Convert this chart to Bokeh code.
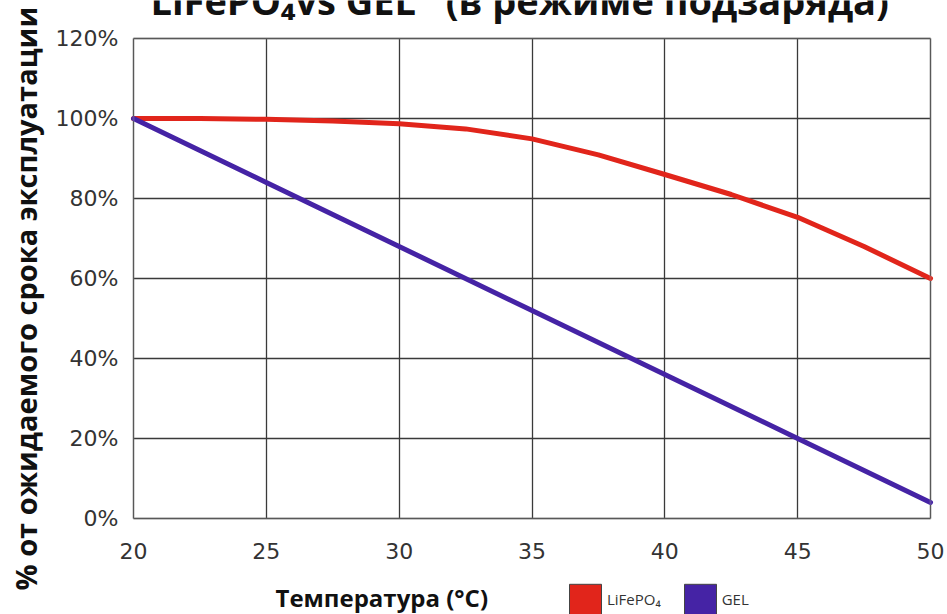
from bokeh.plotting import figure
from bokeh.models import Range1d, FixedTicker, Label, Grid, BoxAnnotation
from bokeh.embed import file_html
from bokeh.resources import INLINE

# ---- data ----
temperature = [20, 22.5, 25, 27.5, 30, 32.5, 35, 37.5, 40, 42.5, 45, 47.5, 50]
lifepo4 = [100, 100, 99.8, 99.4, 98.7, 97.4, 94.9, 90.9, 86, 81, 75.3, 68, 60]
gel_temperature = [20, 25, 30, 35, 40, 45, 50]
gel = [100, 84, 68, 52, 36, 20, 4]
x_ticks = [20, 25, 30, 35, 40, 45, 50]
y_ticks = [0, 20, 40, 60, 80, 100, 120]
y_tick_labels = ["0%", "20%", "40%", "60%", "80%", "100%", "120%"]

title_text = "LiFePO\u2084vs GEL\u00a0\u00a0\u00a0(в режиме подзаряда)"
y_label_text = "% от ожидаемого срока эксплуатации"
x_label_text = "Температура (°C)"
legend_labels = ["LiFePO\u2084", "GEL"]

RED = "#e1251b"
PURPLE = "#4523a5"

# ---- layout (pixels) ----
W, H = 947, 614
PLOT_L, PLOT_R, PLOT_T, PLOT_B = 133, 930, 38, 518
x0, x1 = x_ticks[0], x_ticks[-1]
y0, y1 = y_ticks[0], y_ticks[-1]
sx = (PLOT_R - PLOT_L) / (x1 - x0)
sy = (PLOT_B - PLOT_T) / (y1 - y0)


def dx(px):
    return x0 + (px - PLOT_L) / sx


def dy(py):
    return y0 + (PLOT_B - py) / sy


p = figure(width=W, height=H, output_backend="svg", toolbar_location=None,
           x_range=Range1d(dx(0), dx(W)), y_range=Range1d(dy(H), dy(0)),
           min_border=0, background_fill_color="white", border_fill_color="white")
p.outline_line_color = None

# axes drawn at the data origin of the chart area
for ax in (p.xaxis, p.yaxis):
    ax.axis_line_color = None
    ax.major_tick_line_color = None
    ax.minor_tick_line_color = None
    ax.major_tick_out = 0
    ax.major_tick_in = 0
    ax.minor_tick_out = 0
    ax.major_label_text_font = "DejaVu Sans"
    ax.major_label_text_font_size = "22px"
    ax.major_label_text_color = "#333333"

p.xaxis.ticker = FixedTicker(ticks=x_ticks)
p.yaxis.ticker = FixedTicker(ticks=y_ticks)
p.xaxis.fixed_location = y0
p.yaxis.fixed_location = x0
p.xaxis.bounds = (x0, x1)
p.yaxis.bounds = (y0, y1)
p.yaxis.major_label_overrides = {t: l for t, l in zip(y_ticks, y_tick_labels)}
p.xaxis.major_label_standoff = 24
p.yaxis.major_label_standoff = 15

# grid limited to the chart area
for g in list(p.center):
    if isinstance(g, Grid):
        p.center.remove(g)

has_cross = "cross_bounds" in Grid.properties()
if has_cross:
    gx = Grid(dimension=0, ticker=FixedTicker(ticks=x_ticks), bounds=(x0, x1), cross_bounds=(y0, y1),
              grid_line_color="#3a3a3a", grid_line_width=1.3)
    gy = Grid(dimension=1, ticker=FixedTicker(ticks=y_ticks), bounds=(y0, y1), cross_bounds=(x0, x1),
              grid_line_color="#3a3a3a", grid_line_width=1.3)
    p.add_layout(gx)
    p.add_layout(gy)
else:
    p.segment(x0=x_ticks, y0=[y0] * len(x_ticks), x1=x_ticks, y1=[y1] * len(x_ticks),
              line_color="#3a3a3a", line_width=1.3)
    p.segment(x0=[x0] * len(y_ticks), y0=y_ticks, x1=[x1] * len(y_ticks), y1=y_ticks,
              line_color="#3a3a3a", line_width=1.3)

# chart-area border
p.add_layout(BoxAnnotation(left=x0, right=x1, bottom=y0, top=y1, fill_alpha=0,
                           line_color="#a0a0a0", line_width=2))

p.line(temperature, lifepo4, line_color=RED, line_width=5, line_join="round", line_cap="round")
p.line(gel_temperature, gel, line_color=PURPLE, line_width=5, line_join="round", line_cap="round")

# legend swatches (renderers with a NaN placeholder, used only for legend entries)
nan = float("nan")
p.rect(x=[nan], y=[nan], width=1, height=1, fill_color=RED, line_color="#444444", line_width=1,
       legend_label=legend_labels[0])
p.rect(x=[nan], y=[nan], width=1, height=1, fill_color=PURPLE, line_color="#444444", line_width=1,
       legend_label=legend_labels[1])

lg = p.legend[0]
lg.orientation = "horizontal"
lg.location = (565, H - 618)
lg.glyph_width = 40
lg.glyph_height = 38
lg.label_standoff = 2
lg.spacing = 19
lg.padding = 0
lg.margin = 0
lg.border_line_color = None
lg.background_fill_alpha = 0
lg.label_text_font = "Open Sans"
lg.label_text_font_size = "15px"
lg.label_text_color = "#333333"
lg.label_height = 32

# title (partly cut off at the top, as in the reference)
p.add_layout(Label(x=dx(150), y=dy(-1), text=title_text, text_font="Open Sans",
                   text_font_style="bold", text_font_size="38px", text_color="#111111",
                   text_align="left", text_baseline="alphabetic"))

# axis titles
p.add_layout(Label(x=dx(25), y=dy(590), text=y_label_text, angle=1.5707963, text_font="Open Sans",
                   text_font_style="bold", text_font_size="29px", text_color="#111111",
                   text_align="left", text_baseline="middle"))
p.add_layout(Label(x=dx(275), y=dy(597), text=x_label_text, text_font="Open Sans",
                   text_font_style="bold", text_font_size="24px", text_color="#111111",
                   text_align="left", text_baseline="alphabetic"))

open("out.html", "w").write(file_html(p, INLINE))
